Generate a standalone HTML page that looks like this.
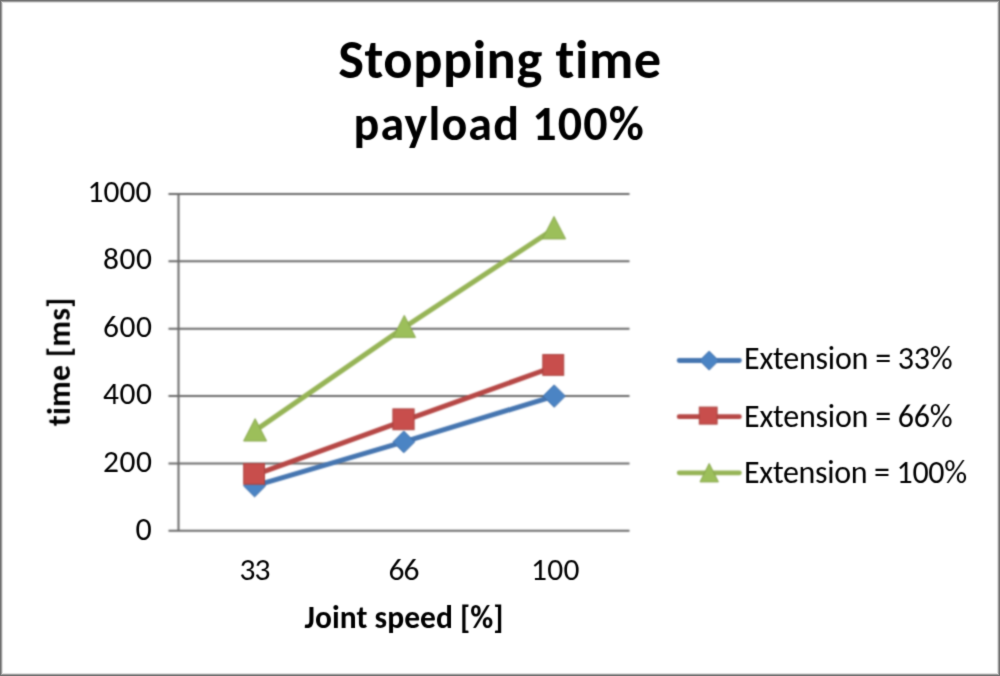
<!DOCTYPE html>
<html><head><meta charset="utf-8"><title>Stopping time payload 100%</title>
<style>
html,body{margin:0;padding:0;background:#fff;}
body{width:1000px;height:676px;overflow:hidden;}
svg{display:block;will-change:transform;}
text{font-family:Carlito,"Liberation Sans",sans-serif;fill:#000;font-variant-ligatures:none;font-feature-settings:"liga" 0,"clig" 0;}
.b{font-weight:bold;font-size-adjust:0.4849;}
text:not(.b){font-size-adjust:0.4775;}
</style></head><body>
<svg width="1000" height="676" viewBox="0 0 1000 676">
<defs><filter id="cv" color-interpolation-filters="sRGB" x="0" y="0" width="1000" height="676" filterUnits="userSpaceOnUse"><feConvolveMatrix order="5" kernelMatrix="0.00087 0.00695 0.01388 0.00695 0.00087 0.00695 0.05540 0.11068 0.05540 0.00695 0.01388 0.11068 0.22111 0.11068 0.01388 0.00695 0.05540 0.11068 0.05540 0.00695 0.00087 0.00695 0.01388 0.00695 0.00087" edgeMode="duplicate" preserveAlpha="false"/></filter><filter id="cvt" color-interpolation-filters="sRGB" x="0" y="0" width="1000" height="676" filterUnits="userSpaceOnUse"><feConvolveMatrix order="5" kernelMatrix="0.00000 0.00013 0.00070 0.00013 0.00000 0.00013 0.01910 0.09973 0.01910 0.00013 0.00070 0.09973 0.52080 0.09973 0.00070 0.00013 0.01910 0.09973 0.01910 0.00013 0.00000 0.00013 0.00070 0.00013 0.00000" edgeMode="none" preserveAlpha="false"/></filter></defs>
<g filter="url(#cv)">
<rect x="0" y="0" width="1000" height="676" fill="#fff"/>

<!-- gridlines -->
<g stroke="#6a6a6a" stroke-width="2" fill="none">
<line x1="168.5" y1="193.95" x2="629.5" y2="193.95"/>
<line x1="168.5" y1="261.31" x2="629.5" y2="261.31"/>
<line x1="168.5" y1="328.67" x2="629.5" y2="328.67"/>
<line x1="168.5" y1="396.03" x2="629.5" y2="396.03"/>
<line x1="168.5" y1="463.39" x2="629.5" y2="463.39"/>
<line x1="168.5" y1="530.75" x2="629.5" y2="530.75"/>
<line x1="178.5" y1="193.95" x2="178.5" y2="530.75"/>
</g>


<!-- series -->
<g fill="none" stroke-width="5" stroke-linejoin="round" stroke-linecap="round">
<polyline stroke="#4575B0" points="254.6,485.8 403.8,441.9 554.2,396.1"/>
<polyline stroke="#B64745" points="254.1,475.2 403.5,420.9 553.2,367.0"/>
<polyline stroke="#96B456" points="255.1,430.6 404.3,327.4 554,228.9"/>
</g>
<!-- markers -->
<g fill="#4B84C4" stroke="#3F6EA8" stroke-width="1" stroke-linejoin="miter">
<path d="M254.60,474.71 L265.69,485.80 L254.60,496.89 L243.51,485.80Z"/>
<path d="M403.80,431.01 L414.69,441.90 L403.80,452.79 L392.91,441.90Z"/>
<path d="M554.20,384.91 L565.39,396.10 L554.20,407.29 L543.01,396.10Z"/>
</g>
<g fill="#C84E4C" stroke="#A9413E" stroke-width="1">
<rect x="243.70" y="463.60" width="20.80" height="20.60"/>
<rect x="392.90" y="408.90" width="21.20" height="20.80"/>
<rect x="542.80" y="354.60" width="20.90" height="20.70"/>
</g>
<g fill="#9CBF5A" stroke="#87A64C" stroke-width="1" stroke-linejoin="round">
<path d="M255.10,418.69 L266.58,441.00 L243.62,441.00Z"/>
<path d="M404.30,315.40 L415.48,337.40 L393.02,337.40Z"/>
<path d="M554.00,216.49 L565.58,238.90 L542.42,238.90Z"/>
</g>

<!-- legend -->
<g stroke-width="4.8" stroke-linecap="round">
<line x1="679.2" y1="360.5" x2="739.4" y2="360.5" stroke="#4575B0"/>
<line x1="679.2" y1="416.7" x2="739.4" y2="416.7" stroke="#B64745"/>
<line x1="679.2" y1="472.8" x2="739.4" y2="472.8" stroke="#96B456"/>
</g>
<path fill="#4B84C4" stroke="#3F6EA8" stroke-width="1" d="M709.2,351.1 L718.7,360.6 L709.2,370.1 L699.7,360.6Z"/>
<rect fill="#C84E4C" stroke="#A9413E" stroke-width="1" x="699.3" y="407.1" width="17.8" height="17"/>
<path fill="#9CBF5A" stroke="#87A64C" stroke-width="1" stroke-linejoin="round" d="M709.2,463.5 L718.4,481.9 L700,481.9Z"/>
</g>
<g filter="url(#cvt)">
<text class="b" x="499.7" y="78.4" font-size="54.5" text-anchor="middle" textLength="323" lengthAdjust="spacing">Stopping time</text>
<text class="b" x="498.65" y="139.6" font-size="48" text-anchor="middle" textLength="290.2" lengthAdjust="spacing">payload 100%</text>
<g font-size="31.5">
<text x="87.5" y="202" textLength="64" lengthAdjust="spacing">1000</text>
<text x="103" y="269.4" textLength="49" lengthAdjust="spacing">800</text>
<text x="103" y="336.8" textLength="49" lengthAdjust="spacing">600</text>
<text x="103" y="404.2" textLength="49" lengthAdjust="spacing">400</text>
<text x="103" y="471.6" textLength="49" lengthAdjust="spacing">200</text>
<text x="135.4" y="540" font-size="32">0</text>
</g>
<g font-size="31.5">
<text x="239.5" y="580.2" textLength="31" lengthAdjust="spacing">33</text>
<text x="388.4" y="580" textLength="31" lengthAdjust="spacing">66</text>
<text x="531" y="580" textLength="48.5" lengthAdjust="spacing">100</text>
</g>
<text class="b" x="304.6" y="627.9" font-size="31.5" textLength="199" lengthAdjust="spacing">Joint speed [%]</text>
<text class="b" transform="translate(69.8 426.2) rotate(-90)" x="0" y="0" font-size="31.5" textLength="128.6" lengthAdjust="spacing">time [ms]</text>
<g font-size="32">
<text x="744" y="368.5" textLength="208.7" lengthAdjust="spacing">Extension = 33%</text>
<text x="744" y="426.5" textLength="208.7" lengthAdjust="spacing">Extension = 66%</text>
<text x="744" y="482.8" textLength="223.1" lengthAdjust="spacing">Extension = 100%</text>
</g>
</g>
<g fill="none" stroke-width="1">
<rect x="3.5" y="3.5" width="993" height="669" stroke="#fbfbfb"/>
<rect x="2.5" y="2.5" width="995" height="671" stroke="#dcdcdc"/>
<rect x="1.5" y="1.5" width="997" height="673" stroke="#9f9f9f"/>
<rect x="0.5" y="0.5" width="999" height="675" stroke="#737373"/>
</g>
</svg>
</body></html>
